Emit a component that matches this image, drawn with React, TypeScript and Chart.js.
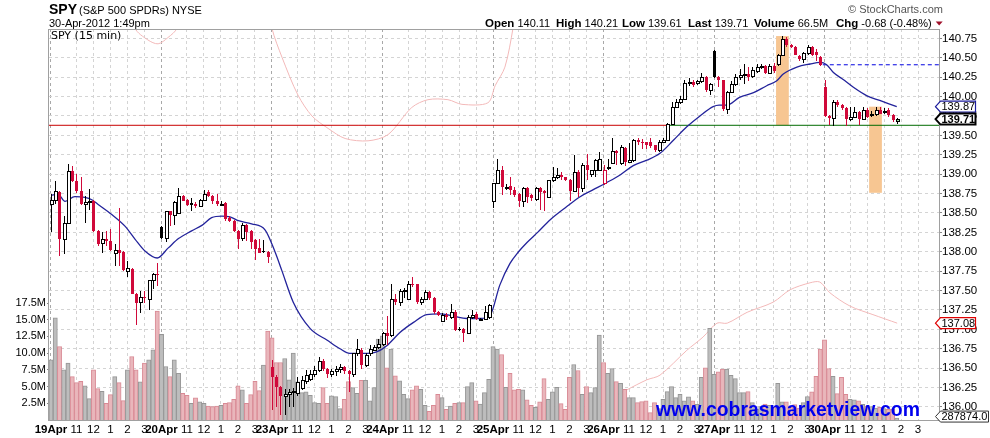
import React, { useEffect, useRef } from "react";
import { Chart, registerables } from "chart.js";

Chart.register(...registerables);

// ---------- axis labels ----------
const dayLabels = ["19Apr", "20Apr", "23Apr", "24Apr", "25Apr", "26Apr", "27Apr", "30Apr"];
const hourLabels = ["11", "12", "1", "2", "3"];
const hourOffsets = [6, 10, 14, 18, 22];
const barsPerDay = 26;
const priceTicks = [136, 136.25, 136.5, 136.75, 137, 137.25, 137.5, 137.75, 138, 138.25, 138.5, 138.75, 139, 139.25, 139.5, 139.75, 140, 140.25, 140.5, 140.75];
const volumeTicks = [2.5, 5, 7.5, 10, 12.5, 15, 17.5];

// ---------- 15-min candles (one row per trading day) ----------
const opens = [
  138.62, 138.67, 138.77, 138.16, 138.37, 139.04, 138.91, 138.78, 138.61, 138.64, 138.66, 138.27, 138.11, 138.17, 138.14, 137.99, 138.02, 138.00, 137.75, 137.78, 137.46, 137.35, 137.42, 137.39, 137.63, 137.72,
  138.32, 138.18, 138.52, 138.48, 138.50, 138.72, 138.67, 138.63, 138.62, 138.59, 138.67, 138.77, 138.72, 138.66, 138.61, 138.63, 138.44, 138.40, 138.27, 138.18, 138.34, 138.27, 138.15, 138.05, 138.01, 138.00,
  136.52, 136.39, 136.26, 136.14, 136.17, 136.19, 136.18, 136.24, 136.34, 136.36, 136.42, 136.47, 136.59, 136.49, 136.43, 136.46, 136.49, 136.51, 136.46, 136.42, 136.69, 136.74, 136.54, 136.69, 136.74, 136.77,
  136.81, 136.95, 136.93, 137.39, 137.35, 137.50, 137.39, 137.59, 137.58, 137.35, 137.39, 137.48, 137.40, 137.22, 137.11, 137.19, 137.16, 137.22, 137.01, 137.00, 136.95, 137.16, 137.20, 137.13, 137.14, 137.16,
  138.65, 138.89, 139.05, 138.83, 138.85, 138.80, 138.75, 138.65, 138.82, 138.73, 138.68, 138.82, 138.78, 138.70, 138.92, 138.96, 138.99, 138.96, 138.93, 138.78, 139.03, 138.82, 139.12, 139.00, 139.05, 139.05,
  138.88, 139.08, 139.14, 139.30, 139.14, 139.34, 139.16, 139.18, 139.44, 139.42, 139.41, 139.42, 139.37, 139.31, 139.42, 139.44, 139.65, 139.87, 139.93, 139.97, 140.17, 140.19, 140.17, 140.20, 140.25, 140.09,
  140.59, 140.25, 140.22, 139.84, 140.06, 140.16, 140.25, 140.28, 140.29, 140.26, 140.33, 140.38, 140.40, 140.31, 140.40, 140.42, 140.54, 140.74, 140.66, 140.64, 140.52, 140.48, 140.56, 140.64, 140.57, 140.51,
  140.12, 139.75, 139.73, 139.93, 139.89, 139.85, 139.71, 139.74, 139.80, 139.71, 139.83, 139.77, 139.78, 139.83, 139.80, 139.83, 139.76, 139.69,
];
const highs = [
  138.74, 138.91, 138.78, 138.46, 139.13, 139.10, 139.00, 138.97, 138.72, 138.81, 138.67, 138.28, 138.25, 138.27, 138.29, 138.10, 138.57, 138.01, 137.88, 137.79, 137.47, 137.50, 137.50, 137.63, 137.73, 137.86,
  138.33, 138.52, 138.52, 138.65, 138.82, 138.73, 138.68, 138.69, 138.64, 138.68, 138.79, 138.79, 138.73, 138.74, 138.65, 138.64, 138.46, 138.41, 138.28, 138.37, 138.36, 138.28, 138.16, 138.16, 138.15, 138.01,
  136.61, 136.41, 136.27, 136.23, 136.23, 136.24, 136.39, 136.40, 136.47, 136.47, 136.53, 136.64, 136.62, 136.50, 136.49, 136.53, 136.56, 136.53, 136.47, 136.70, 136.87, 136.76, 136.70, 136.80, 136.80, 136.88,
  136.97, 137.17, 137.59, 137.45, 137.52, 137.53, 137.62, 137.68, 137.59, 137.42, 137.51, 137.49, 137.42, 137.24, 137.21, 137.21, 137.33, 137.25, 137.03, 137.02, 137.18, 137.25, 137.22, 137.15, 137.30, 137.33,
  138.89, 139.20, 139.10, 138.87, 138.97, 138.83, 138.76, 138.84, 138.83, 138.74, 138.84, 138.83, 138.79, 138.92, 139.09, 139.08, 139.03, 138.97, 138.94, 139.25, 139.06, 139.14, 139.26, 139.06, 139.20, 139.28,
  139.12, 139.20, 139.46, 139.31, 139.38, 139.35, 139.40, 139.45, 139.46, 139.45, 139.42, 139.47, 139.38, 139.44, 139.46, 139.66, 139.93, 139.97, 140.01, 140.22, 140.24, 140.22, 140.22, 140.31, 140.26, 140.18,
  140.60, 140.26, 140.22, 140.07, 140.20, 140.29, 140.35, 140.42, 140.38, 140.38, 140.42, 140.42, 140.41, 140.42, 140.43, 140.55, 140.78, 140.77, 140.68, 140.65, 140.53, 140.58, 140.67, 140.65, 140.61, 140.52,
  140.22, 139.76, 139.95, 139.96, 139.90, 139.86, 139.86, 139.86, 139.82, 139.86, 139.85, 139.81, 139.86, 139.87, 139.85, 139.85, 139.77, 139.73,
];
const lows = [
  138.25, 138.61, 137.95, 137.97, 138.37, 138.90, 138.76, 138.60, 138.37, 138.54, 138.25, 138.08, 137.99, 138.08, 138.01, 137.82, 137.82, 137.75, 137.68, 137.45, 137.06, 137.21, 137.34, 137.25, 137.52, 137.56,
  138.17, 138.13, 138.33, 138.35, 138.50, 138.65, 138.59, 138.52, 138.57, 138.58, 138.66, 138.71, 138.62, 138.59, 138.59, 138.40, 138.39, 138.25, 138.04, 138.14, 138.14, 138.03, 137.90, 137.98, 137.99, 137.86,
  135.96, 136.00, 135.89, 135.89, 136.00, 136.00, 136.14, 136.22, 136.30, 136.34, 136.38, 136.45, 136.46, 136.37, 136.39, 136.40, 136.44, 136.43, 136.19, 136.38, 136.66, 136.49, 136.51, 136.66, 136.72, 136.75,
  136.78, 136.80, 136.90, 137.32, 137.30, 137.40, 137.38, 137.55, 137.33, 137.31, 137.38, 137.38, 137.20, 137.17, 137.10, 137.12, 137.14, 136.98, 136.98, 136.84, 136.94, 137.14, 137.12, 137.12, 137.12, 137.13,
  138.57, 138.88, 138.73, 138.80, 138.73, 138.70, 138.58, 138.58, 138.63, 138.65, 138.66, 138.54, 138.53, 138.69, 138.90, 138.94, 138.93, 138.91, 138.65, 138.77, 138.71, 138.77, 138.92, 138.96, 138.97, 139.04,
  138.86, 139.05, 139.13, 139.12, 139.12, 139.10, 139.14, 139.16, 139.38, 139.33, 139.33, 139.34, 139.29, 139.29, 139.41, 139.43, 139.64, 139.85, 139.91, 139.96, 140.14, 140.12, 140.15, 140.18, 140.06, 140.02,
  140.24, 140.12, 139.81, 139.77, 140.04, 140.14, 140.22, 140.16, 140.20, 140.24, 140.31, 140.36, 140.29, 140.29, 140.30, 140.40, 140.53, 140.64, 140.62, 140.53, 140.46, 140.43, 140.54, 140.52, 140.46, 140.40,
  139.74, 139.64, 139.62, 139.87, 139.83, 139.62, 139.69, 139.72, 139.63, 139.70, 139.72, 139.74, 139.75, 139.77, 139.77, 139.74, 139.67, 139.65,
];
const closes = [
  138.67, 138.78, 138.17, 138.37, 139.04, 138.91, 138.78, 138.61, 138.64, 138.66, 138.27, 138.10, 138.17, 138.14, 138.02, 138.02, 137.99, 137.76, 137.79, 137.46, 137.34, 137.42, 137.41, 137.63, 137.72, 137.71,
  138.18, 138.52, 138.48, 138.64, 138.72, 138.66, 138.60, 138.60, 138.59, 138.67, 138.75, 138.72, 138.66, 138.61, 138.62, 138.42, 138.40, 138.27, 138.17, 138.35, 138.25, 138.12, 138.04, 137.99, 138.00, 137.93,
  136.39, 136.26, 136.14, 136.17, 136.19, 136.20, 136.32, 136.35, 136.41, 136.43, 136.47, 136.59, 136.49, 136.43, 136.46, 136.49, 136.51, 136.46, 136.42, 136.69, 136.75, 136.54, 136.67, 136.75, 136.77, 136.81,
  136.95, 136.92, 137.39, 137.35, 137.50, 137.51, 137.59, 137.57, 137.35, 137.39, 137.48, 137.40, 137.22, 137.19, 137.19, 137.16, 137.23, 136.99, 137.00, 136.95, 137.16, 137.19, 137.14, 137.14, 137.22, 137.31,
  138.89, 139.05, 138.83, 138.84, 138.80, 138.73, 138.65, 138.82, 138.70, 138.69, 138.82, 138.77, 138.76, 138.92, 138.96, 138.99, 138.97, 138.93, 138.78, 139.03, 138.82, 139.12, 139.05, 139.05, 139.18, 139.20,
  139.06, 139.09, 139.30, 139.27, 139.35, 139.16, 139.18, 139.44, 139.41, 139.40, 139.37, 139.36, 139.31, 139.42, 139.44, 139.65, 139.87, 139.93, 139.97, 140.17, 140.19, 140.15, 140.20, 140.25, 140.08, 140.16,
  140.25, 140.22, 139.84, 140.06, 140.16, 140.25, 140.28, 140.29, 140.25, 140.34, 140.38, 140.40, 140.31, 140.40, 140.33, 140.54, 140.74, 140.66, 140.64, 140.54, 140.49, 140.56, 140.64, 140.54, 140.53, 140.41,
  139.75, 139.73, 139.93, 139.89, 139.85, 139.71, 139.74, 139.80, 139.71, 139.83, 139.74, 139.78, 139.83, 139.78, 139.81, 139.76, 139.70, 139.71,
];
// volume per bar, in millions
const volumes = [
  9.0, 15.3, 11.0, 7.5, 8.5, 6.5, 5.6, 5.8, 5.1, 3.2, 7.5, 4.7, 4.3, 2.5, 3.8, 6.5, 5.6, 2.9, 7.5, 9.5, 7.5, 5.7, 8.5, 9.0, 10.5, 16.3,
  12.8, 8.0, 6.5, 9.0, 7.0, 4.0, 3.7, 2.5, 3.3, 2.7, 2.5, 2.1, 2.0, 2.1, 2.2, 2.5, 2.6, 3.1, 5.1, 4.5, 2.5, 3.8, 5.8, 4.4, 8.2, 13.3,
  12.3, 8.6, 8.6, 9.2, 6.0, 10.0, 5.7, 4.1, 4.2, 3.7, 2.6, 2.5, 4.85, 2.5, 3.6, 3.5, 1.7, 3.1, 5.75, 4.85, 4.0, 5.95, 5.95, 2.85, 4.85, 12.1,
  12.6, 7.8, 10.6, 6.6, 5.85, 3.85, 3.2, 4.5, 5.1, 4.6, 2.2, 1.3, 2.2, 3.85, 3.35, 1.6, 2.1, 2.5, 2.6, 2.6, 5.0, 5.6, 2.85, 2.4, 4.1, 6.1,
  11.0, 10.6, 9.8, 4.9, 7.0, 4.5, 4.6, 4.5, 3.0, 2.2, 1.9, 2.7, 6.2, 3.1, 4.2, 4.9, 2.45, 1.6, 6.4, 8.3, 7.4, 3.85, 5.0, 4.1, 4.85, 12.7,
  8.6, 7.0, 7.7, 5.75, 5.5, 4.6, 3.35, 3.35, 2.6, 2.75, 2.85, 1.1, 2.6, 1.7, 3.1, 4.25, 5.0, 3.35, 3.85, 2.85, 3.45, 2.85, 2.35, 6.4, 7.8, 13.7,
  6.85, 7.2, 7.6, 7.6, 6.7, 6.2, 4.1, 4.1, 4.25, 2.6, 1.6, 2.0, 2.4, 2.2, 1.9, 5.5, 2.7, 2.7, 1.9, 2.3, 1.8, 2.6, 3.5, 4.2, 6.55, 10.6,
  12.0, 7.7, 6.55, 3.95, 6.4, 3.85, 3.1, 3.0, 2.85, 2.35, 2.1, 2.0, 1.8, 1.9, 1.7, 1.6, 1.6, 0.287874,
];

// moving-average line (bar index, price)
const maIdx = [0, 1.7, 3.3, 5.6, 8, 9.6, 11.1, 14.3, 17.4, 19.8, 22.1, 25, 27.6, 30, 33.1, 35.5, 37.8, 40.2, 42.1, 44.1, 47.2, 50.4, 52.7, 54.3, 57, 61, 65, 68, 70.3, 73.5, 76.6, 79, 82.1, 85.3, 88.4, 91.5, 94.7, 97.8, 101, 103.3, 105.6, 108, 110, 112, 114.5, 117.4, 121.3, 124.5, 127.6, 130.7, 133.9, 137, 140.2, 143.3, 146.5, 149.6, 152.7, 155.8, 157.2, 159, 162, 165.3, 168.4, 170.7, 172.3, 175.5, 178.6, 181, 182.5, 184.1, 186.4, 188.8, 192, 195, 199];
const maVal = [138.73, 138.74, 138.65, 138.71, 138.70, 138.67, 138.61, 138.48, 138.33, 138.16, 138.01, 137.92, 138.05, 138.17, 138.27, 138.34, 138.44, 138.46, 138.45, 138.40, 138.36, 138.28, 138.00, 137.76, 137.35, 137.01, 136.86, 136.75, 136.69, 136.69, 136.71, 136.79, 136.96, 137.09, 137.19, 137.20, 137.17, 137.14, 137.14, 137.18, 137.57, 137.85, 138.00, 138.12, 138.25, 138.41, 138.58, 138.71, 138.80, 138.89, 138.99, 139.11, 139.18, 139.27, 139.44, 139.61, 139.75, 139.87, 139.89, 139.89, 139.99, 140.05, 140.14, 140.20, 140.29, 140.38, 140.42, 140.44, 140.41, 140.31, 140.22, 140.12, 140.01, 139.95, 139.87];

// faint pink overlay line (null = not visible)
const refIdx = [-0.5, 1.6, 4.9, 9.2, 9.9, 10.5,
  18.8, 19.8, 22.8, 25.2, 27.5, 29.6, 30.6, 31,
  51, 52, 54.4, 58.1, 61.4, 65.2, 69.2, 74.6, 79.3, 84.9, 88.7, 93.4, 96.7, 102.8, 104.5, 106.8, 108.7, 109.7, 110,
  121.8, 122.8, 129.9, 135.5, 140.2, 143.3, 149.6, 153.4, 156.7, 159.1, 163.8, 169.9, 173.9, 178.6, 180.9, 183.3, 188, 193.4, 199.1];
const refVal = [135.94, 135.91, 135.92, 135.92, 135.91, null,
  141.3, 140.88, 140.73, 140.68, 140.76, 140.88, 141.3, null,
  141.3, 140.88, 140.50, 140.02, 139.75, 139.59, 139.46, 139.43, 139.51, 139.86, 139.96, 139.96, 139.90, 139.92, 140.14, 140.38, 140.88, 141.3, null,
  135.5, 135.83, 136.05, 136.22, 136.35, 136.41, 136.73, 136.90, 137.08, 137.08, 137.22, 137.35, 137.51, 137.60, 137.61, 137.47, 137.30, 137.19, 137.08];

const levelPrice = 139.63;
const levelSwitchIdx = 145;
const priorClose = 140.41;
const priorCloseFrom = 181.6;

// highlighted zones
const zoneFrom = [170.6, 192.5];
const zoneTo = [173.6, 195.5];
const zoneTop = [140.78, 139.87];
const zoneBottom = [139.63, 138.76];

const lastMA = 139.87;
const lastPrice = 139.71;
const lastRef = 137.08;
const lastVolume = 287874.0;

// ---------- derived helpers ----------
const xTickValues: number[] = [];
const xTickText: Record<number, string> = {};
const xTickDay: Record<number, boolean> = {};
dayLabels.forEach((d, k) => {
  const s = k * barsPerDay;
  xTickValues.push(s);
  xTickText[s] = d;
  xTickDay[s] = true;
  hourOffsets.forEach((o, j) => {
    xTickValues.push(s + o);
    xTickText[s + o] = hourLabels[j];
    xTickDay[s + o] = false;
  });
});

const RED = "#d0093a";
const isDown = (i: number) => (i > 0 ? closes[i] < closes[i - 1] : false);

const FONT = "'Liberation Sans', Arial, sans-serif";

const stockPlugin = {
  id: "stockPlugin",
  beforeDatasetsDraw(chart: any) {
    const { ctx, chartArea: ca, scales } = chart;
    const xs = scales.x, ys = scales.y;
    ctx.save();
    ctx.beginPath();
    ctx.rect(ca.left, ca.top, ca.right - ca.left, ca.bottom - ca.top);
    ctx.clip();
    ctx.fillStyle = "#f7c692";
    zoneFrom.forEach((f, k) => {
      const x1 = xs.getPixelForValue(f), x2 = xs.getPixelForValue(zoneTo[k]);
      const y1 = ys.getPixelForValue(zoneTop[k]), y2 = ys.getPixelForValue(zoneBottom[k]);
      ctx.fillRect(x1, y1, x2 - x1, y2 - y1);
    });
    ctx.restore();
  },
  afterDatasetsDraw(chart: any) {
    const { ctx, chartArea: ca, scales } = chart;
    const xs = scales.x, ys = scales.y;
    ctx.save();
    ctx.beginPath();
    ctx.rect(ca.left, ca.top, ca.right - ca.left, ca.bottom - ca.top);
    ctx.clip();
    for (let i = 0; i < opens.length; i++) {
      const xc = Math.round(xs.getPixelForValue(i));
      const yH = Math.round(ys.getPixelForValue(highs[i]));
      const yL = Math.round(ys.getPixelForValue(lows[i]));
      const yO = ys.getPixelForValue(opens[i]);
      const yC = ys.getPixelForValue(closes[i]);
      const color = isDown(i) ? RED : "#000";
      const filled = closes[i] < opens[i];
      ctx.fillStyle = color;
      ctx.fillRect(xc, yH, 1, Math.max(1, yL - yH));
      const top = Math.round(Math.min(yO, yC));
      const bot = Math.round(Math.max(yO, yC));
      const h = Math.max(1, bot - top);
      if (filled) {
        ctx.fillRect(xc - 1, top, 3, h);
      } else {
        ctx.fillStyle = i === opens.length - 1 ? "#9fe59f" : "#fff";
        ctx.fillRect(xc - 1, top, 4, h + 1);
        ctx.strokeStyle = color;
        ctx.lineWidth = 1;
        ctx.strokeRect(xc - 0.5, top + 0.5, 3, h);
      }
    }
    ctx.restore();
  },
  afterDraw(chart: any) {
    const { ctx, chartArea: ca, scales } = chart;
    const ys = scales.y, yv = scales.yv;
    ctx.save();
    // frame
    ctx.strokeStyle = "#a0a0a0";
    ctx.lineWidth = 1;
    ctx.strokeRect(ca.left - 0.5, ca.top + 0.5, ca.right - ca.left + 1, ca.bottom - ca.top);

    // watermark
    ctx.fillStyle = "#0000ee";
    ctx.textBaseline = "alphabetic";
    ctx.textAlign = "left";
    ctx.font = `bold 20px ${FONT}`;
    const wm = "www.cobrasmarketview.com";
    const wmW = ctx.measureText(wm).width;
    const wmSize = 20 * 264 / wmW;
    ctx.font = `bold ${wmSize.toFixed(2)}px ${FONT}`;
    ctx.fillText(wm, 656, 416);

    // inner title
    ctx.fillStyle = "#000";
    ctx.font = "11px 'DejaVu Sans', sans-serif";
    ctx.fillText("SPY (15 min)", 51, 39);

    // header left
    ctx.font = `bold 14px ${FONT}`;
    ctx.fillText("SPY", 49, 14);
    ctx.font = `11px ${FONT}`;
    ctx.fillText("(S&P 500 SPDRs) NYSE", 79, 14);
    ctx.fillText("30-Apr-2012 1:49pm", 49, 27);

    // header right
    const parts: [string, string, number][] = [
      ["Open", "140.11", 485], ["High", "140.21", 556], ["Low", "139.61", 622],
      ["Last", "139.71", 688], ["Volume", "66.5M", 754], ["Chg", "-0.68 (-0.48%)", 836],
    ];
    let endX = 0;
    parts.forEach(([lab, val, x]) => {
      ctx.font = `bold 11.5px ${FONT}`;
      ctx.fillText(lab, x, 27);
      const w = ctx.measureText(lab).width;
      ctx.font = `11px ${FONT}`;
      ctx.fillText(val, x + w + 3, 27);
      endX = x + w + 3 + ctx.measureText(val).width;
    });
    ctx.fillStyle = "#a0102a";
    const tx = Math.max(endX + 4, 930);
    ctx.beginPath();
    ctx.moveTo(tx, 21.5);
    ctx.lineTo(tx + 7, 21.5);
    ctx.lineTo(tx + 3.5, 25.5);
    ctx.closePath();
    ctx.fill();

    ctx.fillStyle = "#555";
    ctx.font = `11px ${FONT}`;
    ctx.fillText("\u00A9 StockCharts.com", 848, 13);

    // value tags on the right axis
    const tag = (yc: number, text: string, stroke: string, lw: number, bold: boolean, w: number) => {
      const x0 = 935.5, h = 11;
      ctx.beginPath();
      ctx.moveTo(x0, yc);
      ctx.lineTo(x0 + 5, yc - h / 2);
      ctx.lineTo(x0 + w, yc - h / 2);
      ctx.lineTo(x0 + w, yc + h / 2);
      ctx.lineTo(x0 + 5, yc + h / 2);
      ctx.closePath();
      ctx.fillStyle = "#fff";
      ctx.fill();
      ctx.lineWidth = lw;
      ctx.strokeStyle = stroke;
      ctx.stroke();
      ctx.fillStyle = "#000";
      ctx.font = `${bold ? "bold " : ""}11px ${FONT}`;
      ctx.textBaseline = "middle";
      ctx.fillText(text, x0 + 6, yc + 0.5);
      ctx.textBaseline = "alphabetic";
    };
    tag(ys.getPixelForValue(lastMA), lastMA.toFixed(2), "#1c1c9c", 1.2, false, 40);
    tag(ys.getPixelForValue(lastRef), lastRef.toFixed(2), "#e00000", 1.2, false, 40);
    tag(ys.getPixelForValue(lastPrice), lastPrice.toFixed(2), "#000", 2, true, 40);
    tag(yv.getPixelForValue(lastVolume / 1e6) - 1.5, lastVolume.toFixed(1), "#333", 1, false, 53);
    ctx.restore();
  },
};

export default function App() {
  const ref = useRef<HTMLCanvasElement | null>(null);

  useEffect(() => {
    if (!ref.current) return;
    const volColors = volumes.map((_, i) => (isDown(i) ? "#e9b6bb" : "#bdbdbd"));
    const volBorders = volumes.map((_, i) => (isDown(i) ? "#d98a95" : "#969696"));

    const chart = new Chart(ref.current, {
      type: "bar",
      data: {
        datasets: [
          {
            type: "bar",
            data: volumes.map((v, i) => ({ x: i, y: v })),
            yAxisID: "yv",
            xAxisID: "x",
            backgroundColor: volColors,
            borderColor: volBorders,
            borderWidth: 1,
            barPercentage: 1,
            categoryPercentage: 1,
            order: 5,
          } as any,
          {
            type: "line",
            data: refIdx.map((x, k) => ({ x, y: refVal[k] })),
            yAxisID: "y",
            borderColor: "#f3b9b9",
            borderWidth: 1,
            pointRadius: 0,
            spanGaps: false,
            tension: 0.3,
            order: 6,
          } as any,
          {
            type: "line",
            data: maIdx.map((x, k) => ({ x, y: maVal[k] })),
            yAxisID: "y",
            borderColor: "#23239b",
            borderWidth: 1.3,
            pointRadius: 0,
            cubicInterpolationMode: "monotone",
            order: 1,
          } as any,
          {
            type: "line",
            data: [{ x: -0.5, y: levelPrice }, { x: levelSwitchIdx, y: levelPrice }],
            yAxisID: "y",
            borderColor: "#c80000",
            borderWidth: 1,
            pointRadius: 0,
            order: 2,
          } as any,
          {
            type: "line",
            data: [{ x: levelSwitchIdx, y: levelPrice }, { x: 209, y: levelPrice }],
            yAxisID: "y",
            borderColor: "#006a00",
            borderWidth: 1,
            pointRadius: 0,
            order: 2,
          } as any,
          {
            type: "line",
            data: [{ x: priorCloseFrom, y: priorClose }, { x: 209, y: priorClose }],
            yAxisID: "y",
            borderColor: "#0000e0",
            borderWidth: 1,
            borderDash: [4, 3],
            pointRadius: 0,
            order: 2,
          } as any,
        ],
      },
      options: {
        responsive: false,
        animation: false,
        events: [],
        layout: { padding: { top: 29, left: 0, right: 0, bottom: 0 } },
        plugins: { legend: { display: false }, tooltip: { enabled: false } },
        scales: {
          x: {
            type: "linear",
            min: -0.47,
            max: 208.94,
            offset: false,
            afterBuildTicks: (s: any) => { s.ticks = xTickValues.map((v) => ({ value: v })); },
            afterFit: (s: any) => { s.height = 18; },
            ticks: {
              autoSkip: false,
              maxRotation: 0,
              minRotation: 0,
              padding: 3,
              color: "#000",
              font: (c: any) => ({ family: FONT, size: 11.5, weight: c.tick && xTickDay[c.tick.value] ? "bold" : "normal" }),
              callback: (v: any) => xTickText[v as number] ?? "",
            },
            grid: {
              offset: false,
              color: (c: any) => (c.tick && xTickDay[c.tick.value] ? "#a8a8a8" : "#d4d4d4"),
              tickLength: 0,
            },
            border: { display: false, dash: [3, 3] },
          } as any,
          y: {
            type: "linear",
            position: "right",
            min: 135.832,
            max: 140.871,
            afterBuildTicks: (s: any) => { s.ticks = priceTicks.map((v) => ({ value: v })); },
            afterFit: (s: any) => { s.width = 51; },
            ticks: {
              color: "#000",
              padding: 0,
              font: { family: FONT, size: 11.5 },
              callback: (v: any) => Number(v).toFixed(2),
            },
            grid: { color: "#d4d4d4", tickColor: "#888", tickLength: 3, tickBorderDash: [] },
            border: { display: false, dash: [3, 3] },
          } as any,
          yv: {
            type: "linear",
            position: "left",
            min: 0,
            max: 58.5,
            afterBuildTicks: (s: any) => { s.ticks = volumeTicks.map((v) => ({ value: v })); },
            afterFit: (s: any) => { s.width = 49; },
            ticks: {
              color: "#000",
              padding: 1,
              font: { family: FONT, size: 11 },
              callback: (v: any) => Number(v).toFixed(1) + "M",
            },
            grid: { drawOnChartArea: false, color: "#888", tickLength: 2 },
            border: { display: false },
          } as any,
        },
      },
      plugins: [stockPlugin],
    } as any);

    return () => chart.destroy();
  }, []);

  return (
    <div style={{ position: "absolute", left: 0, top: 0, width: 990, height: 438, background: "#fff" }}>
      <canvas ref={ref} width={990} height={438} style={{ display: "block", width: 990, height: 438 }} />
    </div>
  );
}
